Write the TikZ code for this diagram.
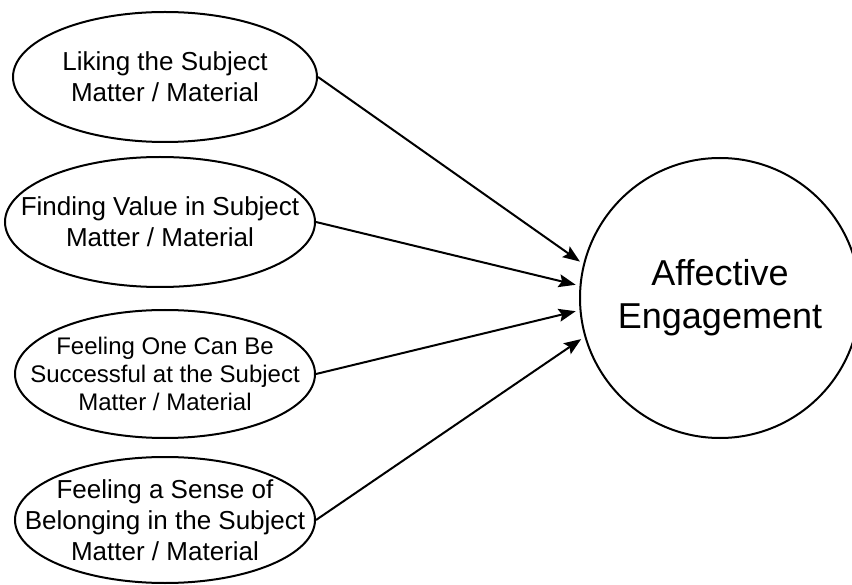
\documentclass[tikz,border=0pt]{standalone}
\usepackage{fontspec}
\setmainfont{Liberation Sans}
\usetikzlibrary{shapes.geometric,arrows.meta}

\tikzset{
    factor/.style={ellipse, draw, line width=2pt, inner sep=0pt, minimum height=130},
    factext/.style={align=center, font=\fontsize{26}{31}\selectfont},
    link/.style={line width=2pt, -{Stealth[length=17pt,width=13pt,inset=3pt]}, shorten >=4pt}
}

\begin{document}
\begin{tikzpicture}[x=1pt,y=-1pt]
\useasboundingbox (0,0) rectangle (852,585);

    \node [factor, minimum width=304, label={[factext]center:Liking the Subject\\Matter / Material}] (liking) at (165,77) {};
    \node [factor, minimum width=310, label={[factext]center:Finding Value in Subject\\Matter / Material}] (value) at (160,222) {};
    \node [factor, minimum width=300, minimum height=128, label={[factext, font=\fontsize{24}{28}\selectfont]center:Feeling One Can Be\\Successful at the Subject\\Matter / Material}] (success) at (165,374) {};
    \node [factor, minimum width=300, minimum height=126, label={[factext]center:Feeling a Sense of\\Belonging in the Subject\\Matter / Material}] (belong) at (165,520) {};

    \node [circle, draw, line width=2pt, inner sep=0pt, minimum size=280, align=center, font=\fontsize{36}{43}\selectfont] (affect) at (720,298) {Affective\\Engagement};

    \path [link] (liking.east) edge (affect.166);
    \path [link] (value.east) edge (affect.175);
    \path [link] (success.east) edge (affect.185);
    \path [link] (belong.east) edge (affect.196);

\end{tikzpicture}
\end{document}
